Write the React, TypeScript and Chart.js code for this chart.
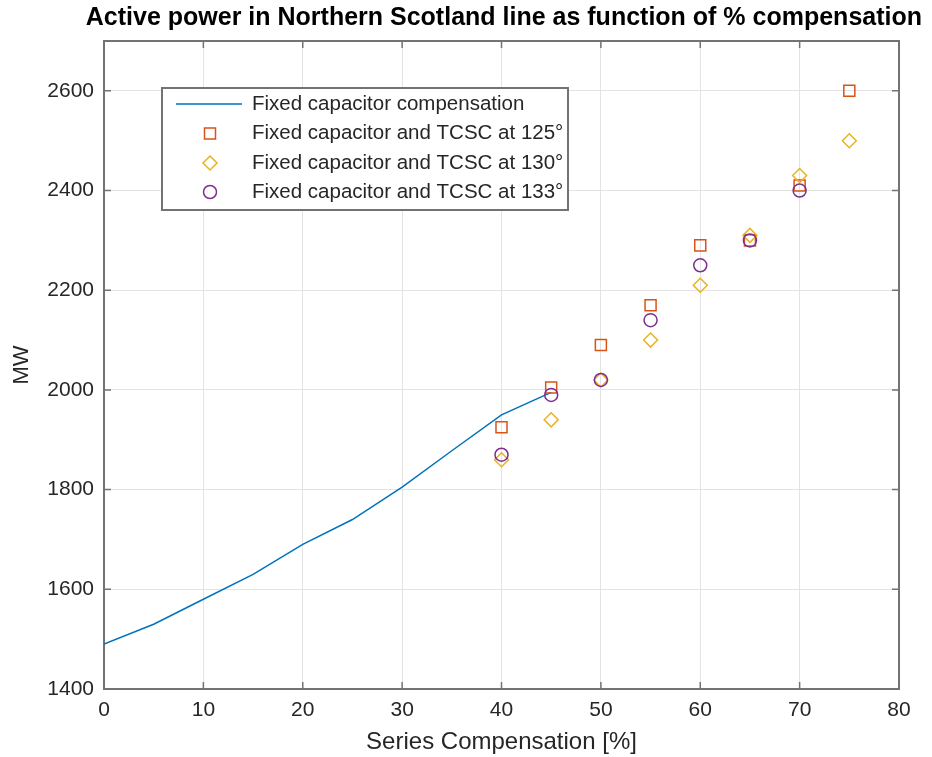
import React, { useEffect, useRef } from 'react';
import { Chart, registerables } from 'chart.js';

Chart.register(...registerables);

// ---------- text ----------
const TITLE = 'Active power in Northern Scotland line as function of % compensation';
const X_LABEL = 'Series Compensation [%]';
const Y_LABEL = 'MW';
const LEGEND_LABELS = [
  'Fixed capacitor compensation',
  'Fixed capacitor and TCSC at 125°',
  'Fixed capacitor and TCSC at 130°',
  'Fixed capacitor and TCSC at 133°',
];

// ---------- data ----------
const lineX = [0, 5, 10, 15, 20, 25, 30, 35, 40, 45];
const lineMW = [1490, 1530, 1580, 1630, 1690, 1740, 1805, 1878, 1950, 1995];

const markerX = [40, 45, 50, 55, 60, 65, 70, 75];
const tcsc125MW = [1925, 2005, 2090, 2170, 2290, 2300, 2410, 2600];
const tcsc130MW = [1860, 1940, 2020, 2100, 2210, 2310, 2430, 2500];

const circleX = [40, 45, 50, 55, 60, 65, 70];
const tcsc133MW = [1870, 1990, 2020, 2140, 2250, 2300, 2400];

const xTicks = [0, 10, 20, 30, 40, 50, 60, 70, 80];
const yTicks = [1400, 1600, 1800, 2000, 2200, 2400, 2600];

// ---------- styles ----------
const FONT = 'Arial, "Liberation Sans", Helvetica, sans-serif';
const BLUE = '#0072BD';
const ORANGE = '#D95319';
const YELLOW = '#EDB120';
const PURPLE = '#7E2F8E';
const AXIS = '#737373';
const TEXT = '#262626';
const GRID = '#e3e3e3';
const TICK_LEN = 7;

const pts = (xs: number[], ys: number[]) => xs.map((x, i) => ({ x, y: ys[i] }));

function drawMarker(ctx: CanvasRenderingContext2D, style: string, x: number, y: number, color: string) {
  ctx.save();
  ctx.strokeStyle = color;
  ctx.lineWidth = 1.5;
  ctx.beginPath();
  if (style === 'rect') {
    const s = 5.5;
    ctx.rect(x - s, y - s, 2 * s, 2 * s);
  } else if (style === 'rectRot') {
    const r = 7;
    ctx.moveTo(x, y - r);
    ctx.lineTo(x + r, y);
    ctx.lineTo(x, y + r);
    ctx.lineTo(x - r, y);
    ctx.closePath();
  } else {
    ctx.arc(x, y, 6.5, 0, Math.PI * 2);
  }
  ctx.stroke();
  ctx.restore();
}

const boxPlugin = {
  id: 'matlabBox',
  beforeDatasetsDraw(chart: any) {
    const { ctx, chartArea: a, scales } = chart;
    const xs = scales.x;
    const ys = scales.y;
    ctx.save();
    ctx.strokeStyle = AXIS;
    ctx.lineWidth = 1.5;
    ctx.beginPath();
    xs.ticks.forEach((t: any) => {
      const px = xs.getPixelForValue(t.value);
      ctx.moveTo(px, a.bottom);
      ctx.lineTo(px, a.bottom - TICK_LEN);
      ctx.moveTo(px, a.top);
      ctx.lineTo(px, a.top + TICK_LEN);
    });
    ys.ticks.forEach((t: any) => {
      const py = ys.getPixelForValue(t.value);
      ctx.moveTo(a.left, py);
      ctx.lineTo(a.left + TICK_LEN, py);
      ctx.moveTo(a.right, py);
      ctx.lineTo(a.right - TICK_LEN, py);
    });
    ctx.stroke();
    ctx.lineWidth = 2;
    ctx.strokeRect(a.left, a.top, a.right - a.left, a.bottom - a.top);
    ctx.restore();
  },
};

const legendPlugin = {
  id: 'insideLegend',
  afterDatasetsDraw(chart: any) {
    const { ctx, chartArea: a } = chart;
    const left = a.left + 58;
    const top = a.top + 47;
    const w = 406;
    const h = 122;
    ctx.save();
    ctx.fillStyle = '#ffffff';
    ctx.fillRect(left, top, w, h);
    ctx.strokeStyle = AXIS;
    ctx.lineWidth = 2;
    ctx.strokeRect(left, top, w, h);
    const rowY = [top + 16, top + 45.5, top + 75, top + 104];
    const styles = ['line', 'rect', 'rectRot', 'circle'];
    const colors = [BLUE, ORANGE, YELLOW, PURPLE];
    ctx.font = `20.5px ${FONT}`;
    ctx.textBaseline = 'middle';
    ctx.textAlign = 'left';
    for (let i = 0; i < 4; i++) {
      const y = rowY[i];
      if (styles[i] === 'line') {
        ctx.strokeStyle = colors[i];
        ctx.lineWidth = 1.5;
        ctx.beginPath();
        ctx.moveTo(left + 14, y);
        ctx.lineTo(left + 80, y);
        ctx.stroke();
      } else {
        drawMarker(ctx, styles[i], left + 48, y, colors[i]);
      }
      ctx.fillStyle = TEXT;
      ctx.fillText(LEGEND_LABELS[i], left + 90, y);
    }
    ctx.restore();
  },
};

export default function App() {
  const ref = useRef<HTMLCanvasElement | null>(null);

  useEffect(() => {
    if (!ref.current) return;
    const chart = new Chart(ref.current, {
      type: 'scatter',
      data: {
        datasets: [
          {
            label: LEGEND_LABELS[0],
            data: pts(lineX, lineMW),
            showLine: true,
            borderColor: BLUE,
            borderWidth: 1.5,
            pointRadius: 0,
            tension: 0,
            order: 4,
          },
          {
            label: LEGEND_LABELS[1],
            data: pts(markerX, tcsc125MW),
            pointStyle: 'rect',
            pointRadius: 7.8,
            pointBorderColor: ORANGE,
            pointBackgroundColor: 'rgba(0,0,0,0)',
            pointBorderWidth: 1.5,
            order: 3,
          },
          {
            label: LEGEND_LABELS[2],
            data: pts(markerX, tcsc130MW),
            pointStyle: 'rectRot',
            pointRadius: 7,
            pointBorderColor: YELLOW,
            pointBackgroundColor: 'rgba(0,0,0,0)',
            pointBorderWidth: 1.5,
            order: 2,
          },
          {
            label: LEGEND_LABELS[3],
            data: pts(circleX, tcsc133MW),
            pointStyle: 'circle',
            pointRadius: 6.5,
            pointBorderColor: PURPLE,
            pointBackgroundColor: 'rgba(0,0,0,0)',
            pointBorderWidth: 1.5,
            order: 1,
          },
        ],
      },
      options: {
        animation: false,
        responsive: false,
        events: [],
        layout: { padding: { left: 0, right: 10, top: 0, bottom: 0 } },
        plugins: {
          legend: { display: false },
          tooltip: { enabled: false },
          title: {
            display: true,
            text: TITLE,
            align: 'end',
            color: '#000000',
            font: { family: FONT, size: 25, weight: 'bold', lineHeight: 1.2 },
            padding: { top: 3, bottom: 8 },
          },
        },
        scales: {
          x: {
            type: 'linear',
            min: 0,
            max: 80,
            afterBuildTicks: (s: any) => {
              s.ticks = xTicks.map((v) => ({ value: v }));
            },
            afterFit: (s: any) => {
              s.height = 68;
            },
            grid: { display: true, color: GRID, lineWidth: 1, drawTicks: false },
            border: { display: false },
            ticks: {
              color: TEXT,
              padding: 9,
              font: { family: FONT, size: 21 },
              maxRotation: 0,
              callback: (v: any) => String(v),
            },
            title: {
              display: true,
              text: X_LABEL,
              color: TEXT,
              font: { family: FONT, size: 24, lineHeight: 1.2 },
              padding: { top: 0, bottom: 0 },
            },
          },
          y: {
            type: 'linear',
            min: 1400,
            max: 2700,
            afterBuildTicks: (s: any) => {
              s.ticks = yTicks.map((v) => ({ value: v }));
            },
            afterFit: (s: any) => {
              s.width = 104;
            },
            grid: { display: true, color: GRID, lineWidth: 1, drawTicks: false },
            border: { display: false },
            ticks: {
              color: TEXT,
              padding: 10,
              font: { family: FONT, size: 21 },
              callback: (v: any) => String(v),
            },
            title: {
              display: true,
              text: Y_LABEL,
              color: TEXT,
              font: { family: FONT, size: 22, lineHeight: 1.2 },
              padding: { top: 9, bottom: 0 },
            },
          },
          y2: {
            type: 'linear',
            position: 'right',
            display: true,
            afterFit: (s: any) => {
              s.width = 23;
            },
            grid: { display: false, drawTicks: false },
            border: { display: false },
            ticks: { display: false },
          },
        },
      },
      plugins: [boxPlugin, legendPlugin],
    } as any);
    return () => chart.destroy();
  }, []);

  return (
    <div style={{ position: 'absolute', left: 0, top: 0, width: 932, height: 757, background: '#ffffff' }}>
      <canvas ref={ref} width={932} height={757} style={{ display: 'block' }} />
    </div>
  );
}
